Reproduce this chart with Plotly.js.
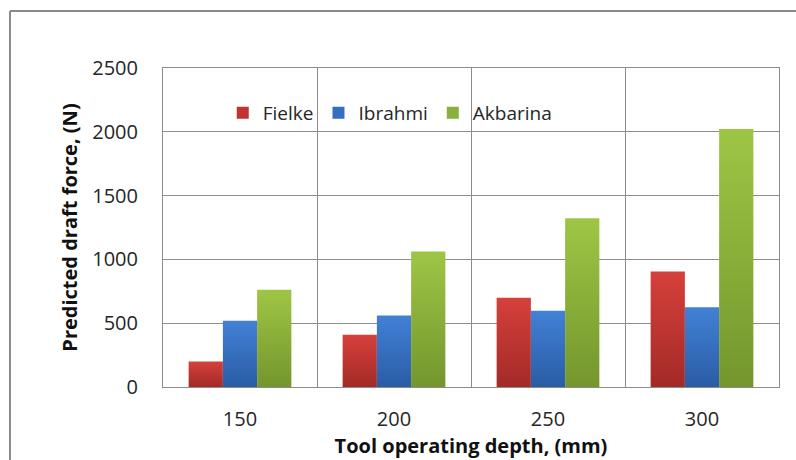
<!DOCTYPE html>
<html>
<head>
<meta charset="utf-8">
<script src="https://cdn.plot.ly/plotly-3.0.1.min.js"></script>
<style>
html,body{margin:0;padding:0;background:#fff;}
#chart{width:796px;height:460px;}
</style>
</head>
<body>
<div id="chart"></div>
<script>
const categories = ['150', '200', '250', '300'];
const fielke = [200, 410, 700, 905];
const ibrahmi = [520, 560, 597, 625];
const akbarina = [762, 1062, 1322, 2022];
const seriesNames = ['Fielke', 'Ibrahmi', 'Akbarina'];
const yTicks = [0, 500, 1000, 1500, 2000, 2500];

const colors = ['#bf3330', '#3570bf', '#89b03a'];
const gradStops = [
  ['#d6403b', '#a32a27'],
  ['#4281d6', '#2a5ca5'],
  ['#9ec645', '#74962d']
];

const W = 796, H = 460;
const mL = 163, mR = 17, mT = 68, mB = 73;
const pw = W - mL - mR, ph = H - mT - mB;
const px = v => (v - mL) / pw;
const py = v => 1 - (v - mT) / ph;

const font = "'Open Sans', 'DejaVu Sans', sans-serif";

const traces = [fielke, ibrahmi, akbarina].map((vals, i) => ({
  type: 'bar',
  name: seriesNames[i],
  x: categories,
  y: vals,
  marker: {color: colors[i], line: {width: 0}},
  hoverinfo: 'x+y+name'
}));

const layout = {
  width: W, height: H,
  margin: {l: mL, r: mR, t: mT, b: mB, pad: 0},
  paper_bgcolor: '#ffffff',
  plot_bgcolor: '#ffffff',
  barmode: 'group',
  bargap: 0.333,
  bargroupgap: 0,
  showlegend: true,
  legend: {
    orientation: 'h',
    x: 0.097, y: py(113), xanchor: 'left', yanchor: 'middle',
    bgcolor: 'rgba(0,0,0,0)',
    font: {family: font, size: 19, color: '#262626'},
    itemclick: false, itemdoubleclick: false,
    tracegroupgap: 0
  },
  xaxis: {
    type: 'category',
    tickson: 'boundaries',
    showgrid: true, gridcolor: '#8c8c8c', gridwidth: 1,
    showline: true, linecolor: '#8c8c8c', linewidth: 1, mirror: true,
    ticks: '',
    ticklabelstandoff: 14,
    tickfont: {family: font, size: 20, color: '#262626'},
    title: {text: 'Tool operating depth, (mm)', standoff: 7,
            font: {family: font, size: 20, color: '#111111', weight: 'bold'}},
    automargin: false,
    fixedrange: true
  },
  yaxis: {
    range: [0, 2500],
    tickvals: yTicks,
    ticktext: yTicks.map(String),
    showgrid: true, gridcolor: '#8c8c8c', gridwidth: 1,
    zeroline: false,
    showline: true, linecolor: '#8c8c8c', linewidth: 1, mirror: true,
    ticks: '',
    ticklabelstandoff: 20,
    tickfont: {family: font, size: 20, color: '#262626'},
    title: {text: 'Predicted draft force, (N)', standoff: 9,
            font: {family: font, size: 20, color: '#111111', weight: 'bold'}},
    automargin: false,
    fixedrange: true
  },
  shapes: [
    {type: 'line', xref: 'paper', yref: 'paper', x0: px(10), x1: px(10), y0: py(11), y1: py(470),
     line: {color: '#8a8a8a', width: 2}},
    {type: 'line', xref: 'paper', yref: 'paper', x0: px(10), x1: px(800), y0: py(11), y1: py(11),
     line: {color: '#8a8a8a', width: 2}}
  ]
};

function applyGradients(gd) {
  const svg = gd.querySelector('svg.main-svg');
  if (!svg) return;
  let defs = svg.querySelector('defs');
  if (!defs) { defs = document.createElementNS('http://www.w3.org/2000/svg', 'defs'); svg.prepend(defs); }
  gradStops.forEach((st, i) => {
    const id = 'barGrad' + i;
    if (!svg.querySelector('#' + id)) {
      const g = document.createElementNS('http://www.w3.org/2000/svg', 'linearGradient');
      g.setAttribute('id', id);
      g.setAttribute('x1', '0'); g.setAttribute('y1', '0');
      g.setAttribute('x2', '0'); g.setAttribute('y2', '1');
      st.forEach((c, k) => {
        const s = document.createElementNS('http://www.w3.org/2000/svg', 'stop');
        s.setAttribute('offset', k === 0 ? '0' : '1');
        s.setAttribute('stop-color', c);
        g.appendChild(s);
      });
      defs.appendChild(g);
    }
  });
  gd.querySelectorAll('.barlayer .trace.bars').forEach((tr, i) => {
    tr.querySelectorAll('path').forEach(p => { p.style.fill = 'url(#barGrad' + (i % 3) + ')'; });
  });
}

const gd = document.getElementById('chart');
Plotly.newPlot(gd, traces, layout, {displayModeBar: false, staticPlot: true}).then(() => applyGradients(gd));
</script>
</body>
</html>
